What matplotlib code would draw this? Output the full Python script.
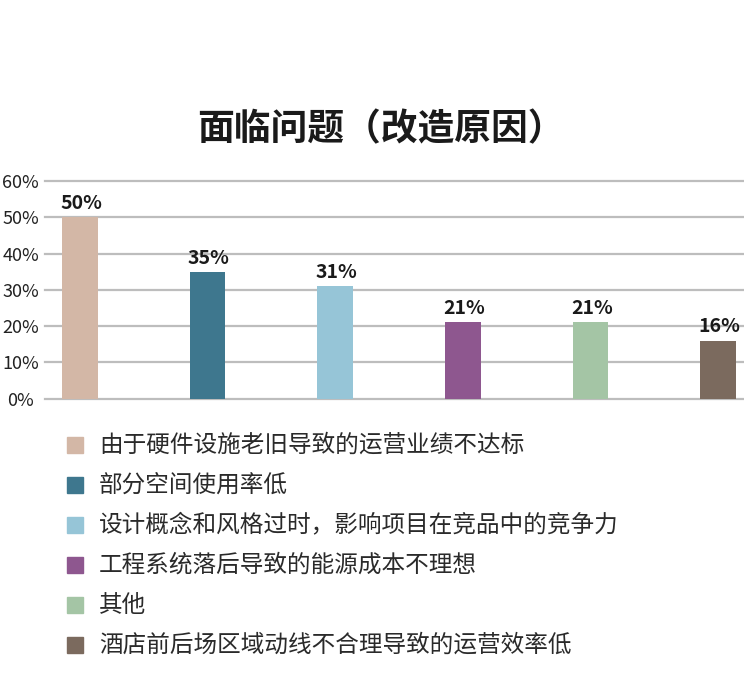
import matplotlib
matplotlib.use("Agg")
import matplotlib.pyplot as plt
from matplotlib.patches import Rectangle

plt.rcParams['font.family'] = ['Noto Sans CJK SC', 'DejaVu Sans']

title = "面临问题（改造原因）"
categories = [
    "由于硬件设施老旧导致的运营业绩不达标",
    "部分空间使用率低",
    "设计概念和风格过时，影响项目在竞品中的竞争力",
    "工程系统落后导致的能源成本不理想",
    "其他",
    "酒店前后场区域动线不合理导致的运营效率低",
]
values = [50, 35, 31, 21, 21, 16]
colors = ["#D3B7A6", "#3E778E", "#96C5D7", "#8E578F", "#A4C5A5", "#7B6A5E"]
yticks = [0, 10, 20, 30, 40, 50, 60]

W, H = 744, 687
fig = plt.figure(figsize=(W / 100, H / 100), dpi=100)

# axes area in pixels: left 45, right 744, bottom y=398.6, top y=181
ax = fig.add_axes([45 / W, (H - 398.6) / H, 699 / W, 217.6 / H])
x = list(range(len(values)))
ax.bar(x, values, width=0.28, color=colors, zorder=2)
ax.set_xlim(-0.274, 5.204)
ax.set_ylim(0, 60)

for t in yticks:
    ax.axhline(t, color="#BDBDBD", lw=1.6, zorder=1, clip_on=False)

for xi, v in zip(x, values):
    ax.annotate(f"{v}%", (xi, v), xytext=(1, 3), textcoords="offset points",
                ha="center", va="bottom", fontsize=14, fontweight="bold",
                color="#1a1a1a")

for s in ax.spines.values():
    s.set_visible(False)
ax.set_xticks([])
ax.set_yticks(yticks)
ax.set_yticklabels([f"{t}%" for t in yticks], fontsize=13, color="#222222", ha="center")
ax.tick_params(axis="y", length=0, pad=17.5)

fig.text(381 / W, 1 - 130 / H, title, ha="center", va="center",
         fontsize=26.5, fontweight="bold", color="#1a1a1a")

# legend drawn by hand
for i, (lab, c) in enumerate(zip(categories, colors)):
    yc = 445 + 40 * i
    fig.patches.append(Rectangle((67 / W, 1 - (yc + 8) / H), 16 / W, 16 / H,
                                 transform=fig.transFigure, color=c, figure=fig))
    fig.text(99 / W, 1 - yc / H, lab, ha="left", va="center",
             fontsize=17, color="#2a2a2a")

fig.savefig("out.png", dpi=100)
